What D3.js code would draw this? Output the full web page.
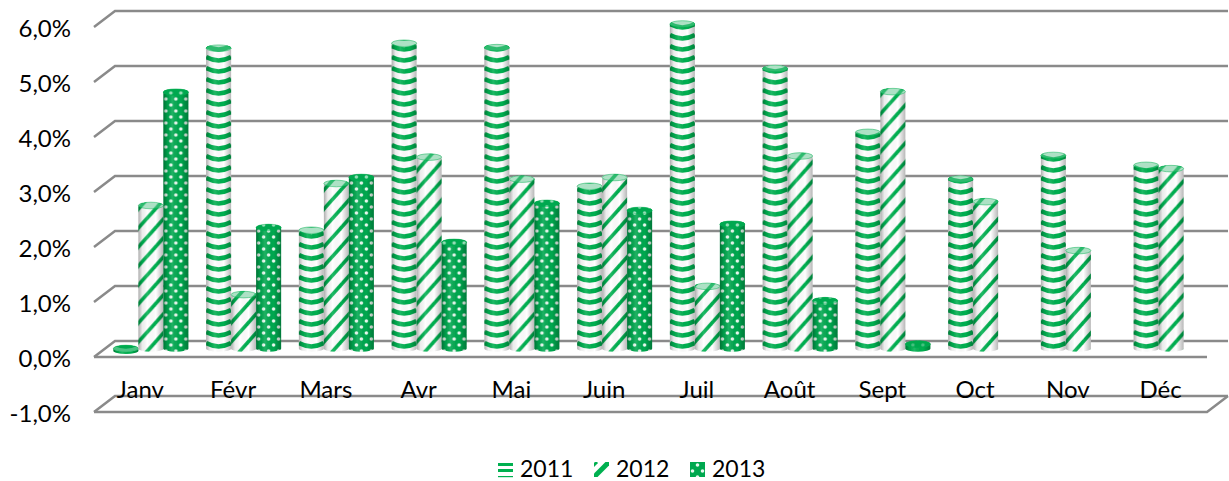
<!DOCTYPE html>
<html><head><meta charset="utf-8">
<script src="https://cdnjs.cloudflare.com/ajax/libs/d3/7.8.5/d3.min.js"></script>
<style>html,body{margin:0;padding:0;background:#fff}svg{display:block}text{font-family:Lato,"Open Sans",sans-serif;fill:#000}</style>
</head><body><svg id="c" width="1229" height="481"></svg>
<script>
const months=["Janv","Févr","Mars","Avr","Mai","Juin","Juil","Août","Sept","Oct","Nov","Déc"];
const years=["2011","2012","2013"];
const v2011=[-0.04,5.46,2.15,5.55,5.47,2.95,5.9,5.09,3.93,3.08,3.51,3.33];
const v2012=[2.6,0.98,3.0,3.48,3.08,3.11,1.13,3.5,4.67,2.67,1.78,3.27];
const v2013=[4.66,2.2,3.11,1.93,2.64,2.51,2.26,0.87,0.08,null,null,null];
const tickValues=[-1,0,1,2,3,4,5,6];
const tickLabels=["-1,0%","0,0%","1,0%","2,0%","3,0%","4,0%","5,0%","6,0%"];
const series=[v2011,v2012,v2013];

const GREEN="#00b050",GRID="#8a8a8a";
const depth={x:21,y:-16};
const svg=d3.select("#c");
const defs=svg.append("defs");
const x0=d3.scaleBand().domain(months).range([94,1207]);
const yF=d3.scaleLinear().domain([-1,6]).range([412,27]);
const x1=d3.scaleBand().domain(years).range([0,75]);
const groupOffset=(x0.bandwidth()-75)/2+depth.x/2;
const barShift=-8.5;

const sh=defs.append("linearGradient").attr("id","shade");
[[0,"#000",.32],[.16,"#000",.07],[.35,"#fff",.12],[.7,"#000",0],[1,"#000",.28]].forEach(s=>
  sh.append("stop").attr("offset",s[0]).attr("stop-color",s[1]).attr("stop-opacity",s[2]));
defs.append("filter").attr("id","soft").attr("x","-5%").attr("y","-5%").attr("width","110%").attr("height","110%")
  .append("feGaussianBlur").attr("stdDeviation",.5);

const grid=svg.append("g").attr("fill","none").attr("stroke",GRID).attr("stroke-width",2.5);
tickValues.forEach(t=>{
  const yb=yF(t)+depth.y;
  grid.append("path").attr("d",d3.line()([[94,yF(t)],[94+depth.x,yb],[1207+depth.x,yb]]));
});
grid.append("path").attr("d",d3.line()([[94,yF(0)],[1207,yF(0)]]));
grid.append("path").attr("d",d3.line()([[94,yF(-1)],[1207,yF(-1)],[1207+depth.x,yF(-1)+depth.y]]));

const ay=svg.append("g").attr("transform","translate(71,2)")
  .call(d3.axisLeft(yF).tickValues(tickValues).tickSize(0).tickPadding(0).tickFormat(d=>tickLabels[tickValues.indexOf(d)]));
ay.select(".domain").remove();
ay.selectAll("text").attr("font-size",24).style("font-family","Lato");
const ax=svg.append("g").attr("transform","translate(0,"+(yF(-1)-31)+")")
  .call(d3.axisBottom(x0).tickSize(0).tickPadding(0));
ax.select(".domain").remove();
ax.selectAll("text").attr("font-size",24).style("font-family","Lato");

function stripes(id,tx){
  const p=defs.append("pattern").attr("id",id).attr("patternUnits","userSpaceOnUse")
    .attr("width",25).attr("height",11).attr("patternTransform","translate("+tx+",0)");
  p.append("rect").attr("width",25).attr("height",11).attr("fill","#fff");
  [-11,0,11].forEach(o=>p.append("path").attr("d","M0,"+(2+o)+" Q12.5,"+(9+o)+" 25,"+(2+o))
    .attr("fill","none").attr("stroke",GREEN).attr("stroke-width",4.4));
}
function diag(id,tx){
  const p=defs.append("pattern").attr("id",id).attr("patternUnits","userSpaceOnUse")
    .attr("width",17).attr("height",19).attr("patternTransform","translate("+tx+",0)");
  p.append("rect").attr("width",17).attr("height",19).attr("fill","#fff");
  [-17,0,17].forEach(o=>p.append("line").attr("x1",o-2).attr("y1",19+2.2).attr("x2",o+19).attr("y2",-2.2)
    .attr("stroke",GREEN).attr("stroke-width",3.6));
}
function dots(id,tx){
  const p=defs.append("pattern").attr("id",id).attr("patternUnits","userSpaceOnUse")
    .attr("width",10).attr("height",12).attr("patternTransform","translate("+tx+",0)");
  p.append("rect").attr("width",10).attr("height",12).attr("fill","#00a84f");
  [[2.5,3],[7.5,9]].forEach(c=>p.append("circle").attr("cx",c[0]).attr("cy",c[1]).attr("r",1.8).attr("fill","#e6f9ee"));
}
const makers=[stripes,diag,dots];

const bars=[];
months.forEach((m,i)=>years.forEach((yr,k)=>{
  const v=series[k][i];
  if(v!==null&&v!==undefined) bars.push({m,yr,k,v});
}));
const rx=12.5,ry=3.3;
const gb=svg.append("g").attr("filter","url(#soft)");
bars.forEach((b,n)=>{
  const xl=x0(b.m)+groupOffset+x1(b.yr), w=x1.bandwidth();
  const y0=yF(0)+barShift, yv=yF(b.v)+barShift;
  const yb=Math.max(y0,yv), yt=Math.min(y0,yv);
  const id="p"+n;
  makers[b.k](id,xl);
  const body=`M${xl},${yt} L${xl},${yb} A${rx},${ry} 0 0 0 ${xl+w},${yb} L${xl+w},${yt} A${rx},${ry} 0 0 0 ${xl},${yt} Z`;
  const small=Math.abs(b.v)<0.1;
  gb.append("path").attr("d",body).attr("fill",small?GREEN:`url(#${id})`);
  gb.append("path").attr("d",body).attr("fill","url(#shade)");
  gb.append("ellipse").attr("cx",xl+w/2).attr("cy",yt).attr("rx",rx).attr("ry",ry)
    .attr("fill",`url(#${id})`);
  gb.append("ellipse").attr("cx",xl+w/2).attr("cy",yt).attr("rx",rx).attr("ry",ry)
    .attr("fill",(b.k==2||small)?"#00a84f":"#5cc48c").attr("fill-opacity",small?.7:(b.k==2?.35:.5))
    .attr("stroke",GREEN).attr("stroke-width",.6).attr("stroke-opacity",.8);
});

const lx=d3.scalePoint().domain(years).range([498,690]);
const lg=svg.append("g");
years.forEach((yr,k)=>{
  const id="lg"+k, x=lx(yr);
  const c=lg.append("clipPath").attr("id","lc"+k);
  c.append("rect").attr("x",x).attr("y",462).attr("width",15).attr("height",15);
  if(k==0){
    [463,469,476].forEach((y,j)=>lg.append("rect").attr("x",x).attr("y",y).attr("width",15).attr("height",j==2?1.2:3).attr("fill",GREEN));
  } else if(k==1){
    lg.append("path").attr("clip-path","url(#lc1)").attr("d",`M${x-1},${478} L${x+16},${461}`).attr("stroke",GREEN).attr("stroke-width",5);
    lg.append("path").attr("clip-path","url(#lc1)").attr("d",`M${x-2},${467} L${x+3},${462}`).attr("stroke",GREEN).attr("stroke-width",3);
  } else {
    dots(id,x);
    lg.append("rect").attr("x",x).attr("y",462).attr("width",15).attr("height",15).attr("fill",`url(#${id})`);
  }
  lg.append("text").attr("x",x+22).attr("y",477).attr("font-size",23).text(yr);
});
</script></body></html>
